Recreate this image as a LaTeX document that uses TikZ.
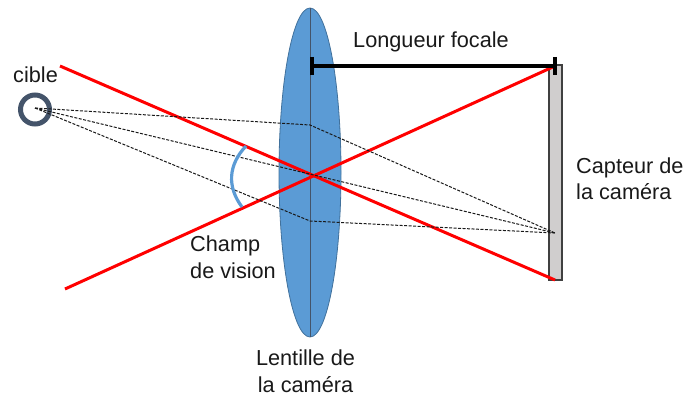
\documentclass[tikz,border=0pt]{standalone}
\usepackage{fontspec}
\setmainfont{Liberation Sans}
\usepackage{xcolor}
\usetikzlibrary{arrows.meta,positioning,calc}
\definecolor{lensblue}{HTML}{5B9BD5}
\definecolor{lensedge}{HTML}{41719C}
\definecolor{slate}{HTML}{44546A}
\definecolor{sensorgrey}{HTML}{D0CECE}
\definecolor{rayred}{HTML}{FF0000}
\begin{document}
\begin{tikzpicture}[
  x=1pt, y=-1pt,
  every node/.style={font=\fontsize{21.7}{26.4}\selectfont, inner sep=0pt, text=black!90},
  lens/.style={draw=lensedge, fill=lensblue, line width=0.8pt},
  sensor/.style={draw=black!75, fill=sensorgrey, line width=1.5pt},
  ray/.style={draw=rayred, line width=3pt},
  sight/.style={draw=black!90, dash pattern=on 3pt off 1.5pt, line width=1pt},
  focal/.style={draw=black, line width=3.4pt},
  target/.style={circle, draw=slate, line width=5pt, minimum size=29pt}
]
  \useasboundingbox (0,0) rectangle (685,396);

  % Lens and its axis
  \draw[lens] (310,172.5) ellipse [x radius=31, y radius=164.5];
  \coordinate (LensTop) at (310,8);
  \coordinate (LensBot) at (310,337);
  \draw[draw=slate, line width=0.8pt] (LensTop) -- (LensBot);

  % Sensor
  \draw[sensor] (549,65) rectangle (562,280);

  % Target
  \node[target] (Target) at (35,109.5) {};
  \coordinate (Obj) at (35,108);

  % Field-of-view rays
  \coordinate (R1a) at (60,66);
  \coordinate (R1b) at (555,280);
  \coordinate (R2a) at (65,289);
  \coordinate (R2b) at (555,66);
  \draw[ray] (R1a) -- (R1b);
  \draw[ray] (R2a) -- (R2b);

  % Rays through the lens
  \coordinate (Upper) at (310,125);
  \coordinate (Lower) at (310,221);
  \coordinate (Img) at (555,233);
  \draw[sight] (Obj) -- (Upper) -- (Img);
  \draw[sight] (Obj) -- (Img);
  \draw[sight] (Obj) -- (Lower) -- (Img);

  % Field-of-view arc
  \coordinate (ArcA) at (246,146);
  \coordinate (ArcB) at (242,207);
  \draw[draw=lensblue, line width=3.2pt] (ArcA) .. controls (228,165) and (227,187) .. (ArcB);

  % Focal length bar
  \coordinate (FocalA) at (312,66);
  \coordinate (FocalB) at (555,66);
  \draw[focal] (FocalA) -- (FocalB);
  \draw[focal] ($(FocalA)+(0,-9)$) -- ($(FocalA)+(0,9)$);
  \draw[focal] ($(FocalB)+(0,-9)$) -- ($(FocalB)+(0,9)$);

  % Labels
  \node[anchor=base west] (LblFocal) at (353,47.5) {Longueur focale};
  \node[anchor=base west] (LblCible) at (13,82.5) {cible};
  \node[anchor=north west, align=left] (LblSensor) at (576,157.5) {Capteur de\\la caméra};
  \node[anchor=north west, align=left] (LblChamp) at (190,236) {Champ\\de vision};
  \node[anchor=north, align=center] (LblLens) at (305.5,350) {Lentille de\\la caméra};
\end{tikzpicture}
\end{document}
